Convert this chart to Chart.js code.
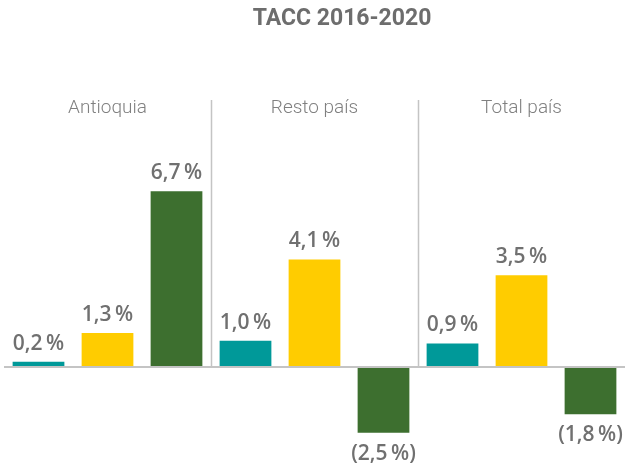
<!DOCTYPE html>
<html>
<head>
<meta charset="utf-8">
<script src="https://cdn.jsdelivr.net/npm/chart.js@4"></script>
<style>
  html, body { margin: 0; padding: 0; background: #fff; }
  #wrap { width: 628px; height: 463px; position: relative; }
</style>
</head>
<body>
<div id="wrap"><canvas id="tacc"></canvas></div>
<script>
// Datos TACC 2016-2020 (%)
const titulo = 'TACC 2016-2020';
const regiones = ['Antioquia', 'Resto país', 'Total país'];
const serieA = [0.2, 1.0, 0.9];
const serieB = [1.3, 4.1, 3.5];
const serieC = [6.7, -2.5, -1.8];
const colores = ['#009999', '#FFCC00', '#3D6F2F'];

function fmt(v) {
    const s = Math.abs(v).toFixed(1).replace('.', ',') + '\u2009%';
    return v < 0 ? '(' + s + ')' : s;
}

// Plugin: título, nombres de región, separadores, línea cero y etiquetas
const decoraciones = {
    id: 'decoraciones',
    afterDatasetsDraw(chart) {
        const { ctx, chartArea, scales } = chart;
        const x = scales.x, y = scales.y;
        const y0 = y.getPixelForValue(0);
        ctx.save();

        // título
        ctx.fillStyle = '#6d6d6d';
        ctx.font = 'bold 23px Roboto';
        ctx.textAlign = 'center';
        ctx.textBaseline = 'middle';
        ctx.fillText(titulo, 342, 19);

        // separadores verticales
        ctx.strokeStyle = '#c4c4c4';
        ctx.lineWidth = 1.5;
        for (let i = 0; i < regiones.length - 1; i++) {
            const px = Math.round(x.getPixelForValue(i + 0.5)) + 0.5;
            ctx.beginPath();
            ctx.moveTo(px, 100);
            ctx.lineTo(px, y0);
            ctx.stroke();
        }

        // línea cero
        ctx.lineWidth = 2;
        ctx.beginPath();
        ctx.moveTo(chartArea.left, y0);
        ctx.lineTo(chartArea.right, y0);
        ctx.stroke();

        // nombres de región
        ctx.fillStyle = '#808080';
        ctx.font = '300 19px Roboto';
        regiones.forEach((r, i) => {
            ctx.fillText(r, x.getPixelForValue(i), 108);
        });

        // etiquetas de valor
        ctx.fillStyle = '#707070';
        ctx.font = '600 21px "Open Sans"';
        chart.data.datasets.forEach((ds, di) => {
            const meta = chart.getDatasetMeta(di);
            meta.data.forEach((bar, i) => {
                const v = ds.data[i];
                const ty = v >= 0 ? bar.y - 18 : bar.y + 21;
                ctx.fillText(fmt(v), bar.x, ty);
            });
        });
        ctx.restore();
    }
};

function initChart() {
    const ctx = document.getElementById('tacc').getContext('2d');
    new Chart(ctx, {
        type: 'bar',
        data: {
            labels: regiones,
            datasets: [
                { data: serieA, backgroundColor: colores[0] },
                { data: serieB, backgroundColor: colores[1] },
                { data: serieC, backgroundColor: colores[2] }
            ]
        },
        options: {
            responsive: true,
            maintainAspectRatio: false,
            animation: false,
            datasets: {
                bar: { barPercentage: 0.75, categoryPercentage: 1.0 }
            },
            layout: { padding: { top: 157, bottom: 4, left: 4, right: 3 } },
            plugins: {
                legend: { display: false },
                title: { display: false },
                tooltip: { enabled: false }
            },
            scales: {
                x: { display: false },
                y: { display: false, min: -3.5, max: 8 }
            }
        },
        plugins: [decoraciones]
    });
}

window.onload = initChart;
</script>
</body>
</html>
